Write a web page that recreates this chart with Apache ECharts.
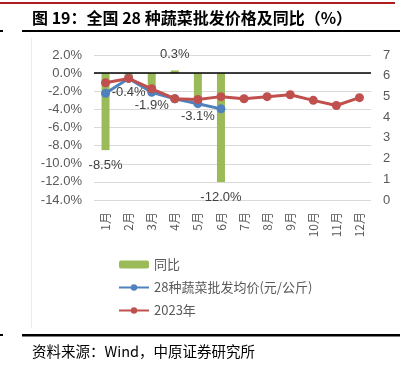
<!DOCTYPE html>
<html><head><meta charset="utf-8">
<script src="https://cdn.jsdelivr.net/npm/echarts@6/dist/echarts.min.js"></script>
<style>html,body{margin:0;padding:0;background:#fff}#c{width:407px;height:373px}</style>
</head><body><div id="c"></div>
<script>
const categories = ['1月','2月','3月','4月','5月','6月','7月','8月','9月','10月','11月','12月'];
const yoy = [-8.5, -0.4, -1.9, 0.3, -3.1, -12.0, null, null, null, null, null, null];
const price = [5.15, 5.87, 5.20, 4.89, 4.65, 4.40, null, null, null, null, null, null];
const price2023 = [5.66, 5.87, 5.37, 4.89, 4.85, 4.99, 4.89, 4.99, 5.08, 4.81, 4.56, 4.94];
const leftTicks = [-14, 2, 2];
const rightTicks = [0, 7, 1];
const seriesNames = ['同比', '28种蔬菜批发均价(元/公斤)', '2023年'];
const titleText = '图 19：全国 28 种蔬菜批发价格及同比（%）';
const sourceText = '资料来源：Wind，中原证券研究所';

const gray = '#595959';
const numFont = '"Liberation Sans","Noto Sans CJK SC",sans-serif';
const cjkFont = '"Noto Sans CJK SC","Liberation Sans",sans-serif';
const chart = echarts.init(document.getElementById('c'), null, {renderer: 'canvas'});
chart.setOption({
  animation: false,
  color: ['#9bbb59', '#4f81bd', '#c0504d'],
  grid: {left: 94, right: 36, top: 55, bottom: 173},
  graphic: [
    {type: 'rect', shape: {x: 0, y: 2, width: 395, height: 2}, style: {fill: '#b01c1c'}},
    {type: 'rect', shape: {x: 22, y: 30, width: 378, height: 2}, style: {fill: '#000'}},
    {type: 'rect', shape: {x: 0, y: 30, width: 3, height: 2}, style: {fill: '#000'}},
    {type: 'rect', shape: {x: 22, y: 334, width: 378, height: 2.5}, style: {fill: '#000'}},
    {type: 'rect', shape: {x: 0, y: 334, width: 3, height: 2}, style: {fill: '#000'}},
    {type: 'rect', shape: {x: 31, y: 38, width: 1, height: 290}, style: {fill: '#ececec'}},
    {type: 'text', left: 32, top: 10, style: {text: titleText, font: 'bold 16px ' + cjkFont, fill: '#000'}},
    {type: 'text', left: 32, top: 344, style: {text: sourceText, font: '14.5px ' + cjkFont, fill: '#000'}}
  ],
  legend: {
    orient: 'vertical', left: 113, top: 253, itemWidth: 30, itemHeight: 8, itemGap: 10,
    textStyle: {color: gray, fontSize: 13, fontFamily: cjkFont},
    data: seriesNames
  },
  xAxis: {
    type: 'category', data: categories,
    axisLine: {show: false}, axisTick: {show: false},
    axisLabel: {rotate: 90, color: gray, fontSize: 12, fontFamily: cjkFont, margin: 12, interval: 0}
  },
  yAxis: [
    {type: 'value', min: leftTicks[0], max: leftTicks[1], interval: leftTicks[2],
     axisLine: {show: false}, axisTick: {show: false},
     splitLine: {lineStyle: {color: '#d9d9d9', width: 1}},
     axisLabel: {color: gray, fontSize: 13, fontFamily: numFont, margin: 12,
                 formatter: v => v.toFixed(1) + '%'}},
    {type: 'value', min: rightTicks[0], max: rightTicks[1], interval: rightTicks[2],
     axisLine: {show: false}, axisTick: {show: false}, splitLine: {show: false},
     axisLabel: {color: gray, fontSize: 13, fontFamily: numFont, margin: 12}}
  ],
  series: [
    {name: seriesNames[0], type: 'bar', yAxisIndex: 0, barWidth: 8,
     data: yoy.map(v => v == null ? null : {value: v, label: {position: v < 0 ? 'bottom' : 'top'}}),
     label: {show: true, distance: 9, color: '#404040', fontSize: 13, fontFamily: numFont,
             formatter: p => p.value.toFixed(1) + '%'},
     markLine: {silent: true, symbol: 'none', label: {show: false},
                lineStyle: {color: '#000', width: 1.5, type: 'solid'}, data: [{yAxis: 0}]}},
    {name: seriesNames[1], type: 'line', yAxisIndex: 1, data: price,
     symbol: 'circle', symbolSize: 9, lineStyle: {width: 3}, z: 3},
    {name: seriesNames[2], type: 'line', yAxisIndex: 1, data: price2023,
     symbol: 'circle', symbolSize: 9, lineStyle: {width: 3}, z: 4}
  ]
});
</script></body></html>
